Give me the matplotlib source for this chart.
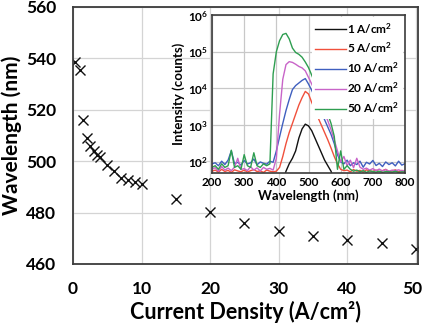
import numpy as np
import matplotlib
matplotlib.use("Agg")
import matplotlib.pyplot as plt
from matplotlib.transforms import ScaledTranslation

plt.rcParams['font.family'] = ['Lato', 'DejaVu Sans']
plt.rcParams['font.weight'] = 'bold'
plt.rcParams['mathtext.fontset'] = 'custom'
plt.rcParams['mathtext.rm'] = 'Lato:bold'
plt.rcParams['mathtext.bf'] = 'Lato:bold'
plt.rcParams['mathtext.it'] = 'Lato:bold'

# peak wavelength vs. current density
current_density = [0.25, 1, 1.5, 2, 2.5, 3, 3.5, 4, 5, 6, 7, 8, 9, 10,
                   15, 20, 25, 30, 35, 40, 45, 50]
peak_wavelength = [538.5, 535.5, 516, 509, 506, 504, 502.5, 501.5, 498.5, 496,
                   493.5, 492.5, 491.8, 491, 485.2, 480.2, 475.8, 472.8, 470.8,
                   469.5, 468, 466]

# EL spectra, sampled every 10 nm from 200 to 800 nm
wl = list(range(200, 810, 10))
spec_1 = [30, 30, 30, 30, 30, 30, 30, 30, 30, 30,
          30, 30, 30, 30, 30, 30, 30, 30, 30, 30,
          30, 30, 30, 56, 89, 126, 200, 447, 794, 1070,
          955, 708, 447, 282, 178, 112, 79, 56, 30, 30,
          30, 30, 30, 30, 30, 30, 30, 30, 30, 30,
          30, 30, 30, 30, 30, 30, 30, 30, 30, 30, 30]
spec_5 = [56, 60, 53, 63, 55, 59, 52, 61, 57, 54,
          60, 53, 58, 62, 55, 57, 52, 60, 56, 54,
          56, 71, 141, 316, 631, 1120, 2000, 3550, 5620, 8320,
          7080, 4170, 2630, 1580, 1000, 631, 398, 240, 141, 89,
          63, 58, 60, 54, 62, 56, 59, 53, 61, 57,
          55, 60, 54, 58, 63, 55, 57, 61, 54, 59, 56]
spec_10 = [89, 95, 79, 105, 85, 112, 200, 90, 98, 82,
           110, 88, 95, 120, 84, 100, 92, 87, 105, 98,
           200, 479, 1120, 2510, 5010, 9330, 12000, 14100, 16600, 18600,
           13200, 8910, 5620, 3550, 2240, 1410, 891, 562, 316, 158,
           100, 89, 112, 79, 95, 85, 105, 72, 98, 88,
           110, 80, 92, 75, 100, 85, 95, 78, 105, 82, 90]
spec_20 = [63, 70, 56, 75, 60, 68, 58, 72, 126, 62,
           66, 58, 74, 60, 69, 57, 71, 63, 67, 60,
           126, 2000, 17800, 44700, 53700, 51300, 45700, 39800, 36300, 30200,
           20000, 13200, 8320, 5250, 3310, 2090, 1320, 759, 398, 200,
           100, 141, 79, 112, 70, 126, 72, 63, 68, 60,
           66, 58, 64, 57, 62, 56, 60, 58, 61, 57, 59]
spec_50 = [71, 79, 63, 89, 71, 79, 209, 71, 79, 63,
           158, 79, 71, 178, 79, 71, 89, 79, 89, 25000,
           100000, 200000, 295000, 316000, 224000, 126000, 95500, 85000, 71000, 52500,
           37000, 23000, 13800, 8320, 5250, 3160, 2000, 1120, 500, 63,
           200, 63, 79, 63, 56, 60, 54, 58, 52, 57,
           55, 53, 56, 52, 55, 54, 53, 56, 52, 54, 53]

labels = ['1 A/cm$^2$', '5 A/cm$^2$', '10 A/cm$^2$', '20 A/cm$^2$', '50 A/cm$^2$']
colors = ['#111111', '#f0503c', '#3f5fbf', '#c864c8', '#2e9e50']

fig = plt.figure(figsize=(4.23, 3.24), dpi=100)
ax = fig.add_axes([0.1726, 0.1852, 0.8156, 0.7932])
ax.plot(current_density, peak_wavelength, 'x', color='#111111', ms=7.5, mew=1.0)
ax.set_xlim(0, 50.3)
ax.set_ylim(460, 560)
ax.set_xticks(range(0, 51, 10))
ax.set_yticks(range(460, 561, 20))
ax.grid(True, color='#d4d4d4', lw=0.9)
ax.set_axisbelow(True)
ax.tick_params(length=0, pad=12, labelsize=12.5)
for s in ax.spines.values():
    s.set_color('#3c3c3c')
    s.set_linewidth(1.3)
ax.set_xlabel('Current Density (A/cm²)', fontsize=15.5, fontweight='bold', labelpad=3)
ax.set_ylabel('Wavelength (nm)', fontsize=15, fontweight='bold', labelpad=3)
# nudge the last x label so it stays inside the figure
last = ax.get_xticklabels()[-1]
last.set_transform(last.get_transform() + ScaledTranslation(-0.04, 0, fig.dpi_scale_trans))

# inset: spectra
ins = fig.add_axes([0.5012, 0.466, 0.4563, 0.4877])
spectra = [spec_1, spec_5, spec_10, spec_20, spec_50]
for sp, c, lab in zip(spectra, colors, labels):
    ins.semilogy(wl, sp, color=c, lw=1.0, label=lab)
ins.set_xlim(200, 800)
ins.set_ylim(50, 1e6)
ins.set_xticks(range(200, 801, 100))
ins.set_yticks([1e2, 1e3, 1e4, 1e5, 1e6])
ins.set_yticklabels([r'$10^{2}$', r'$10^{3}$', r'$10^{4}$', r'$10^{5}$', r'$10^{6}$'])
ins.minorticks_off()
ins.grid(True, color='#c8c8c8', lw=0.9)
ins.set_axisbelow(True)
ins.tick_params(length=0, pad=3, labelsize=8.5)
for s in ins.spines.values():
    s.set_color('#3c3c3c')
    s.set_linewidth(1.2)
ins.set_xlabel('Wavelength (nm)', fontsize=9.5, fontweight='bold', labelpad=1)
ins.set_ylabel('Intensity (counts)', fontsize=9.5, fontweight='bold', labelpad=2)
leg = ins.legend(loc='upper right', fontsize=8.5, frameon=True, facecolor='white',
                 edgecolor='none', framealpha=1, handlelength=2.6, handletextpad=0.1,
                 labelspacing=0.45, borderaxespad=0.2, borderpad=0.3)

fig.savefig('out.png', dpi=100)
